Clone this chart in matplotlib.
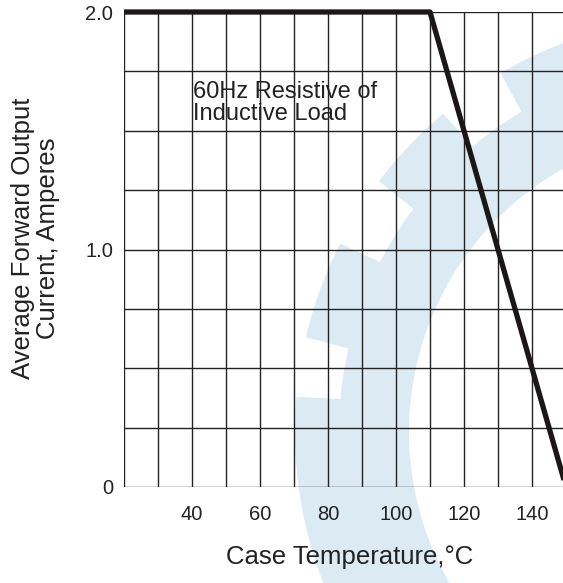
import numpy as np
import matplotlib.pyplot as plt
from matplotlib.patches import Polygon

plt.rcParams['font.family'] = ['Liberation Sans', 'DejaVu Sans']

# derating curve
temp = [20, 110, 150]
current = [2.0, 2.0, 0.0]

xticks = [40, 60, 80, 100, 120, 140]
yticks = [0, 1.0, 2.0]
ytick_labels = ["0", "1.0", "2.0"]

xgrid = np.arange(20, 151, 10)
ygrid = np.arange(0, 2.01, 0.25)

fig = plt.figure(figsize=(5.63, 5.83), dpi=100)

# faint gear watermark behind the chart (pixel space)
bg = fig.add_axes([0, 0, 1, 1], zorder=-1)
bg.set_xlim(0, 563)
bg.set_ylim(583, 0)
bg.axis('off')
cx, cy = 711, 432
r_in, r_body, r_tooth = 302, 372, 416
teeth = [(140, 185), (193, 207), (217, 230), (239.5, 256)]
ang = np.linspace(140, 275, 600)
outer = []
for a in ang:
    r = r_body
    for t0, t1 in teeth:
        if t0 <= a <= t1:
            r = r_tooth
    outer.append((cx + r * np.cos(np.radians(a)), cy + r * np.sin(np.radians(a))))
inner = [(cx + r_in * np.cos(np.radians(a)), cy + r_in * np.sin(np.radians(a))) for a in ang[::-1]]
bg.add_patch(Polygon(outer + inner, closed=True, facecolor='#dceaf3', edgecolor='none'))

ax = fig.add_axes([124 / 563, 96 / 583, 442 / 563, 475 / 583])
ax.set_facecolor('none')
ax.set_xlim(20, 150)
ax.set_ylim(0, 2.0)

for gx in xgrid:
    ax.axvline(gx, color='#222222', lw=1.0, zorder=1)
for gy in ygrid:
    ax.axhline(gy, color='#222222', lw=1.0, zorder=1)

ax.plot(temp, current, color='#1b1716', lw=3.8, solid_capstyle='butt', zorder=3, clip_on=False)

ax.set_xticks(xticks)
ax.set_xticklabels([str(t) for t in xticks])
ax.set_yticks(yticks)
ax.set_yticklabels(ytick_labels)
ax.tick_params(axis='both', length=0, labelsize=14.5, colors='#222222')
ax.tick_params(axis='x', pad=13)
ax.tick_params(axis='y', pad=8)
for s in ax.spines.values():
    s.set_visible(False)

ax.text(0.511, -0.147, "Case Temperature,\u00b0C", transform=ax.transAxes,
        ha='center', va='center', fontsize=18.5, color='#222222')
ax.text(-0.201, 0.524, "Average Forward Output\nCurrent, Amperes", transform=ax.transAxes,
        ha='center', va='center', rotation=90, fontsize=18.5, color='#222222', linespacing=1.05)
ax.text(40.3, 1.71, "60Hz Resistive of\nInductive Load", ha='left', va='top',
        fontsize=17, color='#222222', linespacing=1.0)

fig.savefig('out.png', dpi=100)
